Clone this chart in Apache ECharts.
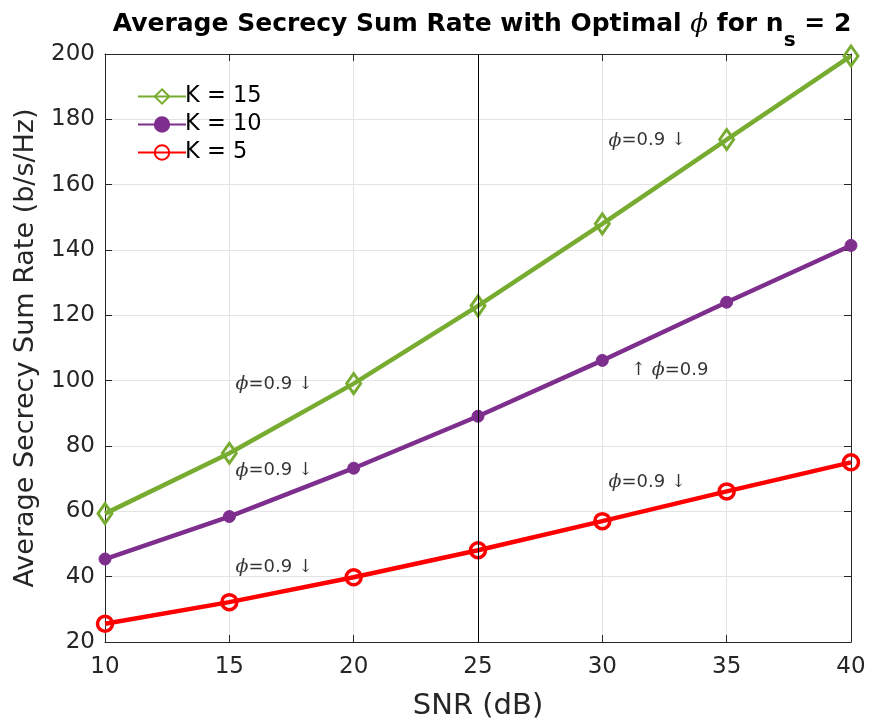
<!DOCTYPE html>
<html>
<head>
<meta charset="utf-8">
<title>Average Secrecy Sum Rate</title>
<script src="https://cdn.jsdelivr.net/npm/echarts@6/dist/echarts.min.js"></script>
<style>
  html, body { margin: 0; padding: 0; background: #fff; }
  #chart { width: 869px; height: 724px; }
</style>
</head>
<body>
<div id="chart"></div>
<script>
// SNR values (dB)
const snr = [10, 15, 20, 25, 30, 35, 40];

// Average secrecy sum rate (b/s/Hz) per user count
const rateK15 = [59.3, 77.8, 99.1, 122.9, 148.0, 173.8, 199.4];
const rateK10 = [45.4, 58.4, 73.2, 89.1, 106.2, 124.0, 141.4];
const rateK5  = [25.6, 32.2, 39.8, 48.1, 57.0, 66.1, 75.0];

// Annotation anchors (left edge of each note) and their kind
const noteX    = [30.25, 15.25, 15.25, 15.25, 31.15, 30.25];
const noteY    = [173.5, 99.0, 72.4, 43.0, 103.3, 69.0];
const noteKind = ['down', 'down', 'down', 'down', 'up', 'down'];

const axisColor = '#262626';
const gridColor = '#e3e3e3';
const sans = '"DejaVu Sans", "Liberation Sans", Arial, sans-serif';
const serif = '"DejaVu Serif", "Liberation Serif", serif';

const chart = echarts.init(document.getElementById('chart'), null, { renderer: 'canvas' });

const pair = (xs, ys) => xs.map((x, i) => [x, ys[i]]);

const noteData = noteX.map((x, i) => ({
  value: [x, noteY[i]],
  kind: noteKind[i]
}));

const axisCommon = {
  type: 'value',
  axisLine: { show: true, lineStyle: { color: axisColor, width: 1 } },
  axisTick: { show: true, inside: true, length: 7, lineStyle: { color: axisColor } },
  minorTick: { show: false }
};

const option = {
  backgroundColor: '#ffffff',
  animation: false,
  title: {
    text: '{a|Average Secrecy Sum Rate with Optimal }{p|ϕ}{a| for n}{s|s}{a| = 2}',
    left: 477,
    textAlign: 'center',
    top: 7,
    textStyle: {
      rich: {
        a: { fontFamily: sans, fontWeight: 'bold', fontSize: 25, color: '#000', lineHeight: 30, verticalAlign: 'top' },
        p: { fontFamily: serif, fontStyle: 'italic', fontWeight: 'normal', fontSize: 26, color: '#000', lineHeight: 30, verticalAlign: 'top' },
        s: { fontFamily: sans, fontWeight: 'bold', fontSize: 20, color: '#000', lineHeight: 30, padding: [19, 0, 0, 0], verticalAlign: 'top' }
      }
    }
  },
  legend: {
    data: ['K = 15', 'K = 10', 'K = 5'],
    orient: 'vertical',
    left: 132,
    top: 78,
    itemWidth: 48,
    itemHeight: 18,
    itemGap: 1,
    textStyle: { fontFamily: sans, fontSize: 22.5, color: '#000', lineHeight: 27, padding: [0, 0, 0, -6] }
  },
  grid: { left: 105, right: 18, top: 54, bottom: 82, containLabel: false, outerBoundsMode: 'none' },
  xAxis: [
    Object.assign({}, axisCommon, {
      min: 10, max: 40, interval: 5,
      position: 'bottom',
      name: 'SNR (dB)',
      nameLocation: 'middle',
      nameGap: 50,
      nameTextStyle: { fontFamily: sans, fontSize: 29, color: axisColor },
      axisLabel: { fontFamily: sans, fontSize: 23, color: axisColor, margin: 14 },
      splitLine: { show: true, lineStyle: { color: gridColor, width: 1 } }
    }),
    Object.assign({}, axisCommon, {
      min: 10, max: 40, interval: 5,
      position: 'top',
      axisLabel: { show: false },
      splitLine: { show: false }
    })
  ],
  yAxis: [
    Object.assign({}, axisCommon, {
      min: 20, max: 200, interval: 20,
      position: 'left',
      name: 'Average Secrecy Sum Rate (b/s/Hz)',
      nameLocation: 'middle',
      nameGap: 66,
      nameTextStyle: { fontFamily: sans, fontSize: 27, color: axisColor },
      axisLabel: { fontFamily: sans, fontSize: 23, color: axisColor, margin: 10 },
      splitLine: { show: true, lineStyle: { color: gridColor, width: 1 } }
    }),
    Object.assign({}, axisCommon, {
      min: 20, max: 200, interval: 20,
      position: 'right',
      axisLabel: { show: false },
      splitLine: { show: false }
    })
  ],
  series: [
    {
      name: 'K = 15',
      type: 'line',
      data: pair(snr, rateK15),
      symbol: 'diamond',
      symbolSize: [14, 20],
      lineStyle: { color: '#77AC30', width: 4.5 },
      itemStyle: { color: 'rgba(255,255,255,0)', borderColor: '#77AC30', borderWidth: 3 },
      z: 3,
      markLine: {
        silent: true,
        symbol: 'none',
        label: { show: false },
        lineStyle: { color: '#000', width: 1, type: 'solid' },
        data: [{ xAxis: 25 }]
      }
    },
    {
      name: 'K = 10',
      type: 'line',
      data: pair(snr, rateK10),
      symbol: 'circle',
      symbolSize: 12,
      lineStyle: { color: '#7E2F8E', width: 4.5 },
      itemStyle: { color: '#7E2F8E', borderColor: '#7E2F8E', borderWidth: 1 },
      z: 3
    },
    {
      name: 'K = 5',
      type: 'line',
      data: pair(snr, rateK5),
      symbol: 'circle',
      symbolSize: 15,
      lineStyle: { color: '#FF0000', width: 4.5 },
      itemStyle: { color: 'rgba(255,255,255,0)', borderColor: '#FF0000', borderWidth: 3.5 },
      z: 3
    },
    {
      name: 'notes',
      type: 'scatter',
      data: noteData,
      symbolSize: 0,
      silent: true,
      z: 4,
      label: {
        show: true,
        position: 'right',
        distance: 0,
        fontFamily: sans,
        fontSize: 18,
        color: '#000',
        formatter: (p) => p.data.kind === 'up'
          ? '{r|↑ }{p|ϕ}{t|=0.9}'
          : '{p|ϕ}{t|=0.9 }{r|↓}',
        rich: {
          p: { fontFamily: serif, fontStyle: 'italic', fontSize: 19, color: '#000' },
          t: { fontFamily: sans, fontSize: 18, color: '#000' },
          r: { fontFamily: serif, fontSize: 18, color: '#000' }
        }
      }
    }
  ]
};

chart.setOption(option);
</script>
</body>
</html>
